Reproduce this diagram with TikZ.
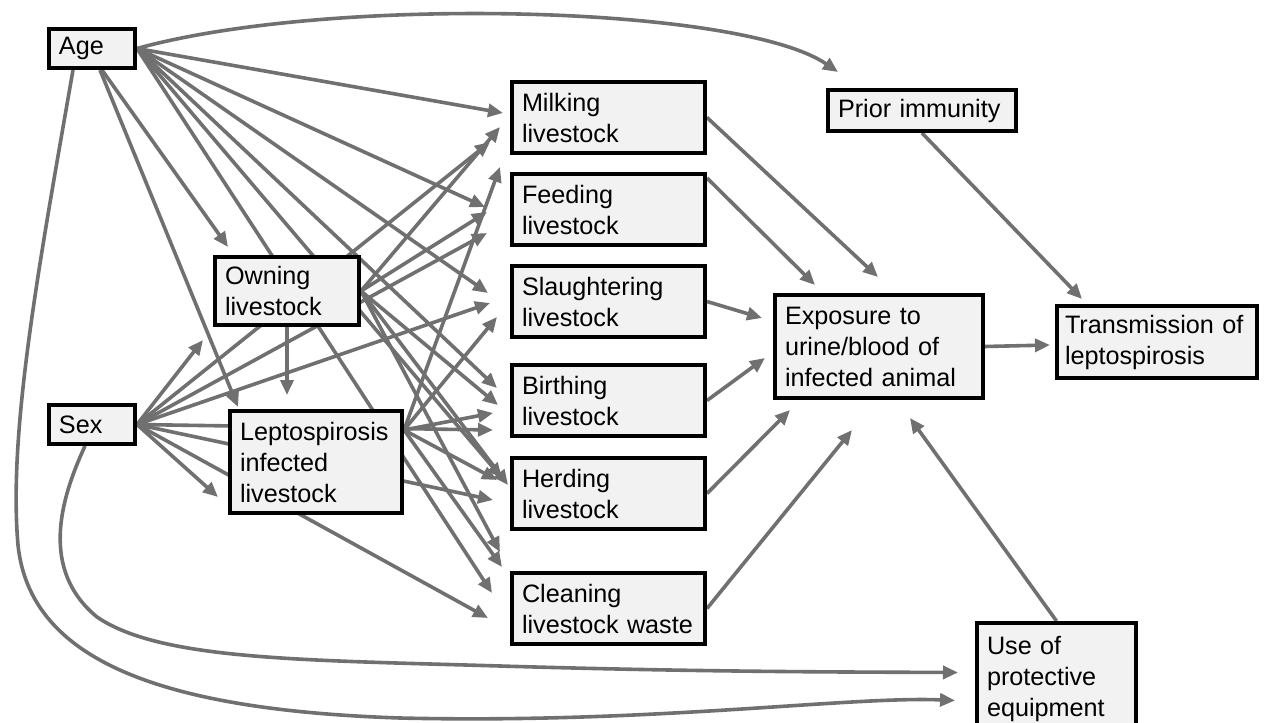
\documentclass[tikz,border=0pt]{standalone}
\usepackage{fontspec}
\setmainfont{Liberation Sans}
\usetikzlibrary{arrows.meta, calc, backgrounds}
\definecolor{edgegray}{HTML}{707070}
\definecolor{boxfill}{HTML}{F2F2F2}

\begin{document}
\begin{tikzpicture}[x=0.5pt, y=-0.5pt, >={Triangle[length=7.5pt,width=6.5pt]}]

\tikzstyle{factor} = [rectangle, anchor=north west, draw=black, line width=2pt, fill=boxfill, align=left, inner xsep=5pt, inner ysep=2pt, font=\fontsize{12.6pt}{15.5pt}\selectfont]
\tikzstyle{activity} = [factor, text width=86.5pt, minimum height=35.5pt]
\tikzstyle{flow} = [->, draw=edgegray, line width=1.8pt]

\useasboundingbox (0,0) rectangle (1266,723);

% background factors
\node (age) [factor, text width=33pt, minimum height=19.5pt] at (47,27) {Age};
\node (sex) [factor, text width=33pt, minimum height=19.5pt] at (47,403) {Sex};
\node (own) [factor, text width=62pt, minimum height=34pt] at (213,255) {Owning\\livestock};
\node (lep) [factor, text width=76pt, minimum height=51pt] at (228,409) {Leptospirosis\\infected\\livestock};
\coordinate (lepout) at ($(lep.north east)+(0,21)$);

% activities
\node (milk) [activity] at (510,80) {Milking\\livestock};
\node (feed) [activity] at (510,172) {Feeding\\livestock};
\node (slau) [activity] at (510,264) {Slaughtering\\livestock};
\node (birth) [activity] at (510,363) {Birthing\\livestock};
\node (herd) [activity] at (510,456) {Herding\\livestock};
\node (clean) [activity] at (510,571) {Cleaning\\livestock waste};

% right side
\node (prior) [factor, text width=84pt, minimum height=20.5pt] at (826,88) {Prior immunity};
\node (exp) [factor, text width=94pt, minimum height=51.5pt] at (773,293) {Exposure to\\urine/blood of\\infected animal};
\node (trans) [factor, text width=92pt, inner xsep=4pt, minimum height=36pt] at (1055,304) {Transmission of\\leptospirosis};
\node (ppe) [factor, text width=69.5pt, minimum height=55.5pt] at (975,621) {Use of\\protective\\equipment};

\begin{scope}[on background layer]
% age
\draw [flow] (age.east) -- ($(milk.west)+(-7,-4.5)$);
\draw [flow] (age.east) -- ($(feed.west)+(-25,-2.5)$);
\draw [flow] (age.east) -- ($(slau.west)+(-22,-8.5)$);
\draw [flow] (age.east) -- ($(birth.west)+(-13,-12.5)$);
\draw [flow] (age.east) -- ($(herd.west)+(-8,-15.5)$);
\draw [flow] (age.east) -- ($(clean.west)+(-18,-15.5)$);
\draw [flow] ($(age.south)+(10,0)$) -- ($(own.north west)+(15,-8)$);
\draw [flow] ($(age.south)+(8,0)$) -- ($(lep.north west)+(10,-2)$);
\draw [flow] (age.east) .. controls (330,-5) and (740,5) .. ($(prior.north west)+(12,-16)$);
\draw [flow] ($(age.south west)+(26,0)$) .. controls (40,260) and (8,430) .. (18,545)
  .. controls (30,660) and (160,710) .. (400,718) .. controls (650,724) and (850,696) .. ($(ppe.west)+(-20,22)$);

% sex
\draw [flow] (sex.east) -- ($(own.south west)+(-10,13)$);
\draw [flow] (sex.east) -- ($(lep.west)+(-10,35)$);
\draw [flow] (sex.east) -- ($(milk.west)+(-20,24.5)$);
\draw [flow] (sex.east) -- ($(feed.west)+(-23,23.5)$);
\draw [flow] (sex.east) -- ($(slau.west)+(-20,1.5)$);
\draw [flow] (sex.east) -- ($(birth.west)+(-17,29.5)$);
\draw [flow] (sex.east) -- ($(herd.west)+(-17,6.5)$);
\draw [flow] (sex.east) -- ($(clean.west)+(-22,9.5)$);
\draw [flow] ($(sex.south)+(-7,0)$) .. controls (60,500) and (40,570) .. (97,617)
  .. controls (160,660) and (300,660) .. (500,666) .. controls (700,672) and (850,672) .. ($(ppe.west)+(-17,-6)$);

% owning
\draw [flow] (own.south) -- ($(own.south |- lep.north)+(0,-14)$);
\draw [flow] (own.east) -- ($(milk.west)+(-10,9.5)$);
\draw [flow] (own.east) -- ($(feed.west)+(-23,2.5)$);
\draw [flow] (own.east) -- ($(birth.west)+(-12,4.5)$);
\draw [flow] (own.east) -- ($(herd.west)+(-2,-8.5)$);
\draw [flow] (own.east) -- ($(clean.west)+(-10,-56.5)$);

% infected livestock
\draw [flow] (lepout) -- ($(feed.west)+(-10,-42.5)$);
\draw [flow] (lepout) -- ($(slau.west)+(-13,15.5)$);
\draw [flow] (lepout) -- ($(birth.west)+(-17,12.5)$);
\draw [flow] (lepout) -- ($(herd.west)+(-13,-13.5)$);
\draw [flow] (lepout) -- ($(clean.west)+(-8,-41.5)$);

% exposure
\draw [flow] (milk.east) -- ($(exp.north)+(-1,-16)$);
\draw [flow] ($(feed.north east)+(0,6)$) -- ($(exp.north west)+(42,-8)$);
\draw [flow] (slau.east) -- ($(exp.west)+(-11,-28.5)$);
\draw [flow] (birth.east) -- ($(exp.west)+(-8,11.5)$);
\draw [flow] (herd.east) -- ($(exp.south west)+(17,10)$);
\draw [flow] (clean.east) -- ($(exp.south)+(-27,30)$);
\draw [flow] (ppe.north) -- ($(exp.south)+(31,18)$);
\draw [flow] (prior.south) -- ($(trans.north west)+(27,-5)$);
\draw [flow] (exp.east) -- ($(trans.west)+(-5,3)$);
\end{scope}

\end{tikzpicture}
\end{document}
